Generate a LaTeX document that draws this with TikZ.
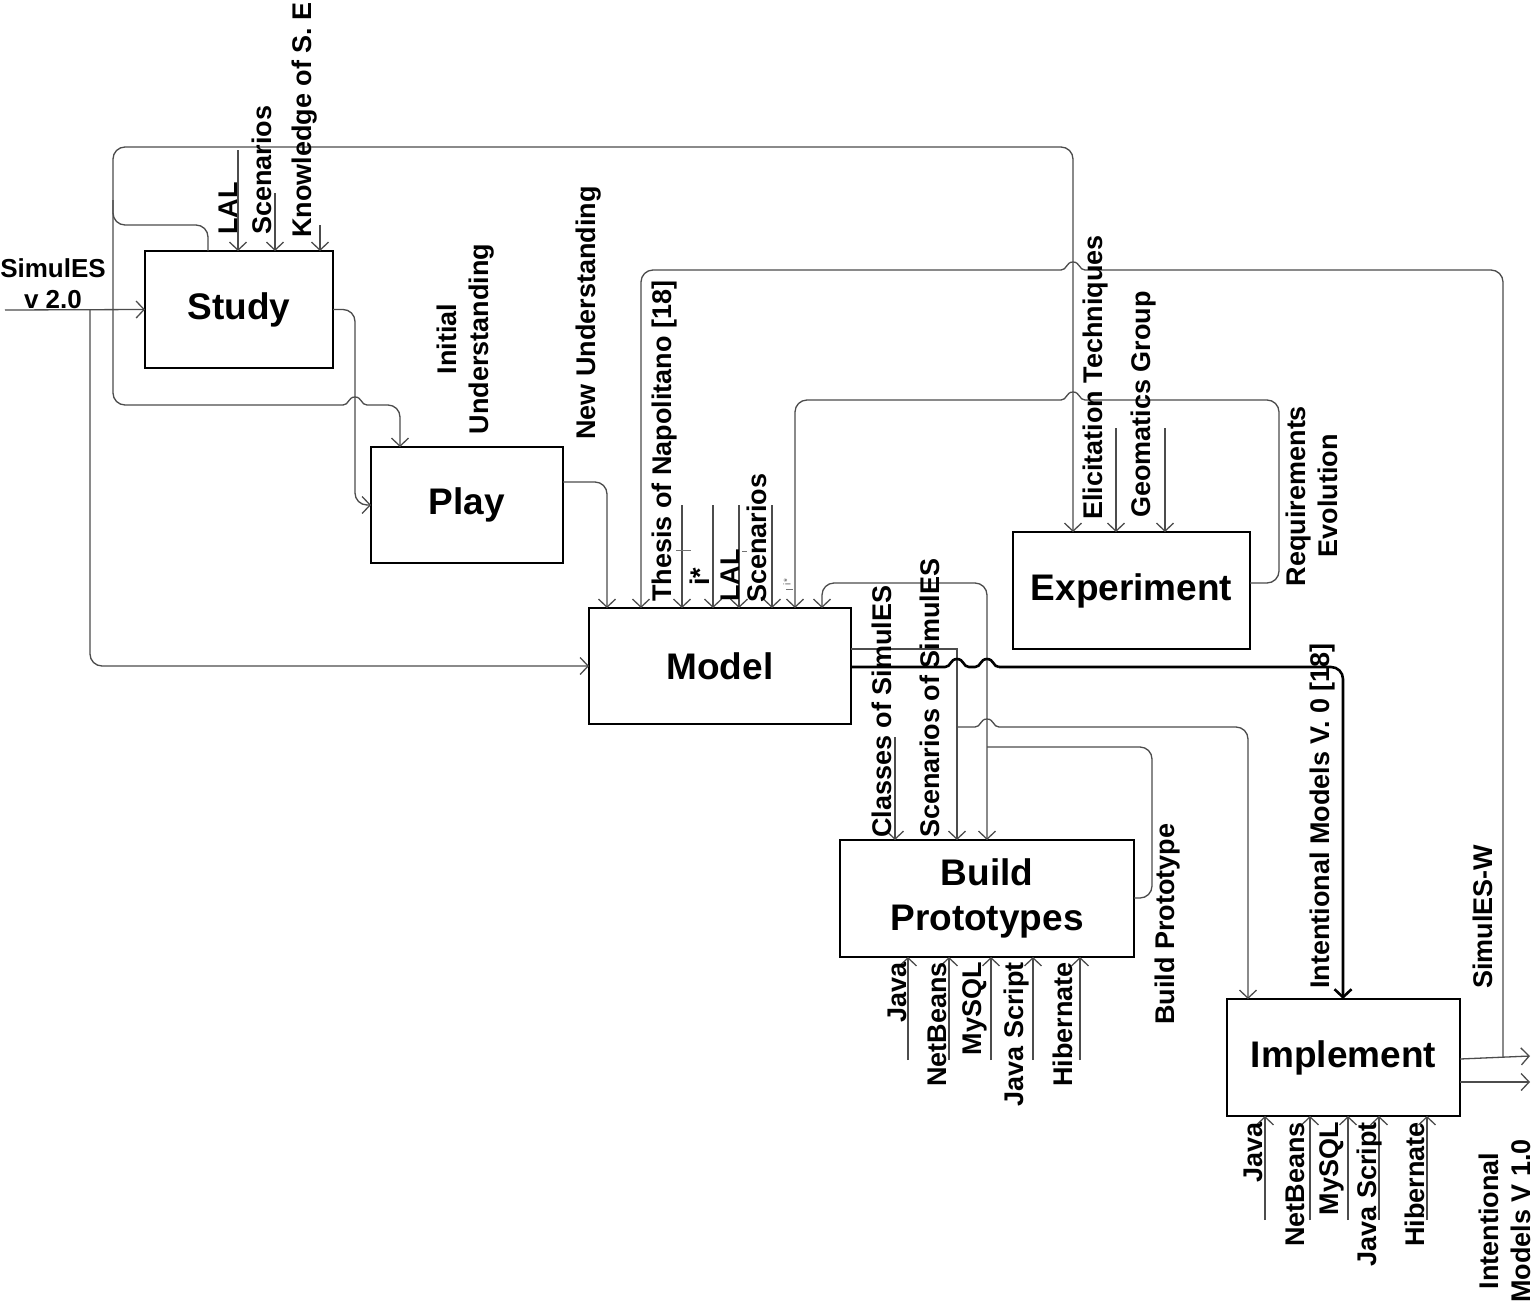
\documentclass[tikz,border=0pt]{standalone}
\usepackage{fontspec}
\setmainfont{Liberation Sans}
\usetikzlibrary{arrows.meta}
\begin{document}
\begin{tikzpicture}[x=1pt,y=-1pt,
  box/.style={draw=black, line width=1.5pt, inner sep=0pt, outer sep=0pt, align=center,
              font=\bfseries\fontsize{37}{45}\selectfont},
  conn/.style={draw=black!70, line width=1.3pt, rounded corners=12pt},
  hopline/.style={draw=black!70, line width=1.3pt},
  thickconn/.style={draw=black, line width=2.6pt, rounded corners=12pt},
  thickhop/.style={draw=black, line width=2.6pt},
  arr/.style={-{Straight Barb[length=8pt,width=17pt]}},
  arrboth/.style={{Straight Barb[length=8pt,width=17pt]}-{Straight Barb[length=8pt,width=17pt]}},
  lbl/.style={font=\bfseries\fontsize{27}{32}\selectfont, inner sep=0pt, rotate=90, align=center},
  tick/.style={draw=black!55, line width=0.8pt}
]
\useasboundingbox (0,0) rectangle (1534,1301);
\fill[white] (0,0) rectangle (1534,1301);

% ---------- boxes ----------
\node[box, minimum width=188pt, minimum height=117pt] (study) at (239,309.5) {Study};
\node[box, minimum width=192pt, minimum height=116pt] (play) at (467,505) {Play};
\node[box, minimum width=262pt, minimum height=116pt] (model) at (720,666) {Model};
\node[box, minimum width=237pt, minimum height=117pt] (exper) at (1131.5,590.5) {Experiment};
\node[box, minimum width=294pt, minimum height=117pt] (build) at (987,898.5) {Build\\Prototypes};
\node[box, minimum width=233pt, minimum height=117pt] (impl) at (1343.5,1057.5) {Implement};

% ---------- free ends ----------
\coordinate (src) at (5,310);
\coordinate (simw) at (1503,1057.5);

% ---------- Study ----------
\draw[conn,arr] (src) -- (study.west);
\draw[conn,arr] (90,310) -- (90,666) -- (model.west);
\draw[conn,arr] (study.east) -- (355,309.5) -- (355,505) -- (play.west);
\draw[conn,arr] (208,0 |- study.north) -- (208,225) -- (113,225) -- (113,147) -- (1073,147) -- (1073,0 |- exper.north);
\draw[conn] (113,200) -- (113,405) -- (343,405);
\draw[hopline] (343,405) .. controls (349,405) and (348,397) .. (355,397) .. controls (362,397) and (361,405) .. (367,405);
\draw[conn,arr] (367,405) -- (400,405) -- (400,0 |- play.north);
\draw[conn,arr] (238,150) -- (238,0 |- study.north);
\draw[conn,arr] (275,193) -- (275,0 |- study.north);
\draw[conn,arr] (320,225) -- (320,0 |- study.north);

\node[font=\bfseries\fontsize{26}{31}\selectfont, align=center, inner sep=0pt] (lsim) at (53,284) {SimulES\\v 2.0};
\node[lbl, anchor=west] (lal1) at (228,235) {LAL};
\node[lbl, anchor=west] (scn1) at (262,235) {Scenarios};
\node[lbl, anchor=west] (knw) at (305,238) {Knowledge of S. E};
\node[lbl] (initu) at (466,339) {Initial\\Understanding};

% ---------- Play ----------
\draw[conn,arr] (play.east |- 0,482) -- (607,482) -- (607,0 |- model.north);
\node[lbl] (newu) at (589,313) {New Understanding};

% ---------- Model controls ----------
\draw[conn] (simw) -- (1503,270) -- (1085,270);
\draw[hopline] (1085,270) .. controls (1079,270) and (1080,262) .. (1073,262) .. controls (1066,262) and (1067,270) .. (1061,270);
\draw[conn,arr] (1061,270) -- (641,270) -- (641,0 |- model.north);
\draw[conn,arr] (682,505) -- (682,0 |- model.north);
\draw[conn,arr] (713,505) -- (713,0 |- model.north);
\draw[conn,arr] (739,505) -- (739,0 |- model.north);
\draw[conn,arr] (772,505) -- (772,0 |- model.north);
\draw[tick] (676,550) -- (691,550);
\draw[tick] (742,551) -- (747,551);
\draw[tick] (786,589) -- (793,589);
\node[rotate=90, font=\fontsize{10}{10}\selectfont, text=black!60, inner sep=0pt] (tiny) at (787,582) {i*};

\node[lbl, anchor=west] (thesis) at (665,602) {Thesis of Napolitano [18]};
\node[lbl, anchor=west] (istar) at (700,586) {i*};
\node[lbl, anchor=west] (lal2) at (730,602) {LAL};
\node[lbl, anchor=west] (scn2) at (757,603) {Scenarios};

% ---------- Experiment ----------
\draw[conn,arr] (1116,428) -- (1116,0 |- exper.north);
\draw[conn,arr] (1165,428) -- (1165,0 |- exper.north);
\draw[conn] (exper.east |- 0,583) -- (1279,583) -- (1279,400) -- (1085,400);
\draw[hopline] (1085,400) .. controls (1079,400) and (1080,392) .. (1073,392) .. controls (1066,392) and (1067,400) .. (1061,400);
\draw[conn,arr] (1061,400) -- (795,400) -- (795,0 |- model.north);
\node[lbl, anchor=west] (elic) at (1096,520) {Elicitation Techniques};
\node[lbl, anchor=west] (geo) at (1144,518) {Geomatics Group};
\node[lbl] (reqev) at (1312,496) {Requirements\\Evolution};

% ---------- Build loop ----------
\draw[conn] (build.east |- 0,898) -- (1152,898) -- (1152,747) -- (987,747);
\draw[conn,arrboth] (822,0 |- model.north) -- (822,583) -- (987,583) -- (987,0 |- build.north);
\node[lbl] (bproto) at (1168,924) {Build Prototype};

% ---------- Model outputs ----------
\draw[conn,arr,sharp corners] (model.east |- 0,649) -- (957,649) -- (957,0 |- build.north);
\draw[hopline] (957,727) -- (975,727)
   .. controls (981,727) and (980,719) .. (987,719) .. controls (994,719) and (993,727) .. (999,727);
\draw[conn,arr] (999,727) -- (1248,727) -- (1248,0 |- impl.north);
\draw[thickhop] (model.east |- 0,667) -- (945,667)
   .. controls (951,667) and (950,659) .. (957,659) .. controls (964,659) and (963,667) .. (969,667)
   -- (975,667)
   .. controls (981,667) and (980,659) .. (987,659) .. controls (994,659) and (993,667) .. (999,667);
\draw[thickconn,arr] (999,667) -- (1343,667) -- (1343,0 |- impl.north);
\draw[conn,arr] (895,737) -- (895,0 |- build.north);
\node[lbl, anchor=west] (cls) at (882,838) {Classes of SimulES};
\node[lbl, anchor=west] (scnsim) at (930,838) {Scenarios of SimulES};
\node[lbl, anchor=west] (imv0) at (1323,989) {Intentional Models V. 0 [18]};

% ---------- Build mechanisms ----------
\foreach \xx in {908,949,991,1033,1080}
  \draw[conn,arr] (\xx,1060) -- (\xx,0 |- build.south);
\node[lbl, anchor=east] (bj) at (897,962) {Java};
\node[lbl, anchor=east] (bn) at (937,962) {NetBeans};
\node[lbl, anchor=east] (bm) at (975,962) {MySQL};
\node[lbl, anchor=east] (bs) at (1017,962) {Java Script};
\node[lbl, anchor=east] (bh) at (1063,962) {Hibernate};

% ---------- Implement ----------
\foreach \xx in {1265,1310,1348,1379,1427}
  \draw[conn,arr] (\xx,1220) -- (\xx,0 |- impl.south);
\node[lbl, anchor=east] (ij) at (1253,1122) {Java};
\node[lbl, anchor=east] (in) at (1295,1122) {NetBeans};
\node[lbl, anchor=east] (im) at (1332,1122) {MySQL};
\node[lbl, anchor=east] (is) at (1370,1122) {Java Script};
\node[lbl, anchor=east] (ih) at (1415,1122) {Hibernate};

\draw[conn,arr] (impl.east |- 0,1059) -- (1530,1056);
\draw[conn,arr] (impl.east |- 0,1082) -- (1530,1082);
\node[lbl, anchor=west] (simwl) at (1483,989) {SimulES-W};
\node[lbl] (imv1) at (1505,1221) {Intentional\\Models V 1.0};
\end{tikzpicture}
\end{document}
